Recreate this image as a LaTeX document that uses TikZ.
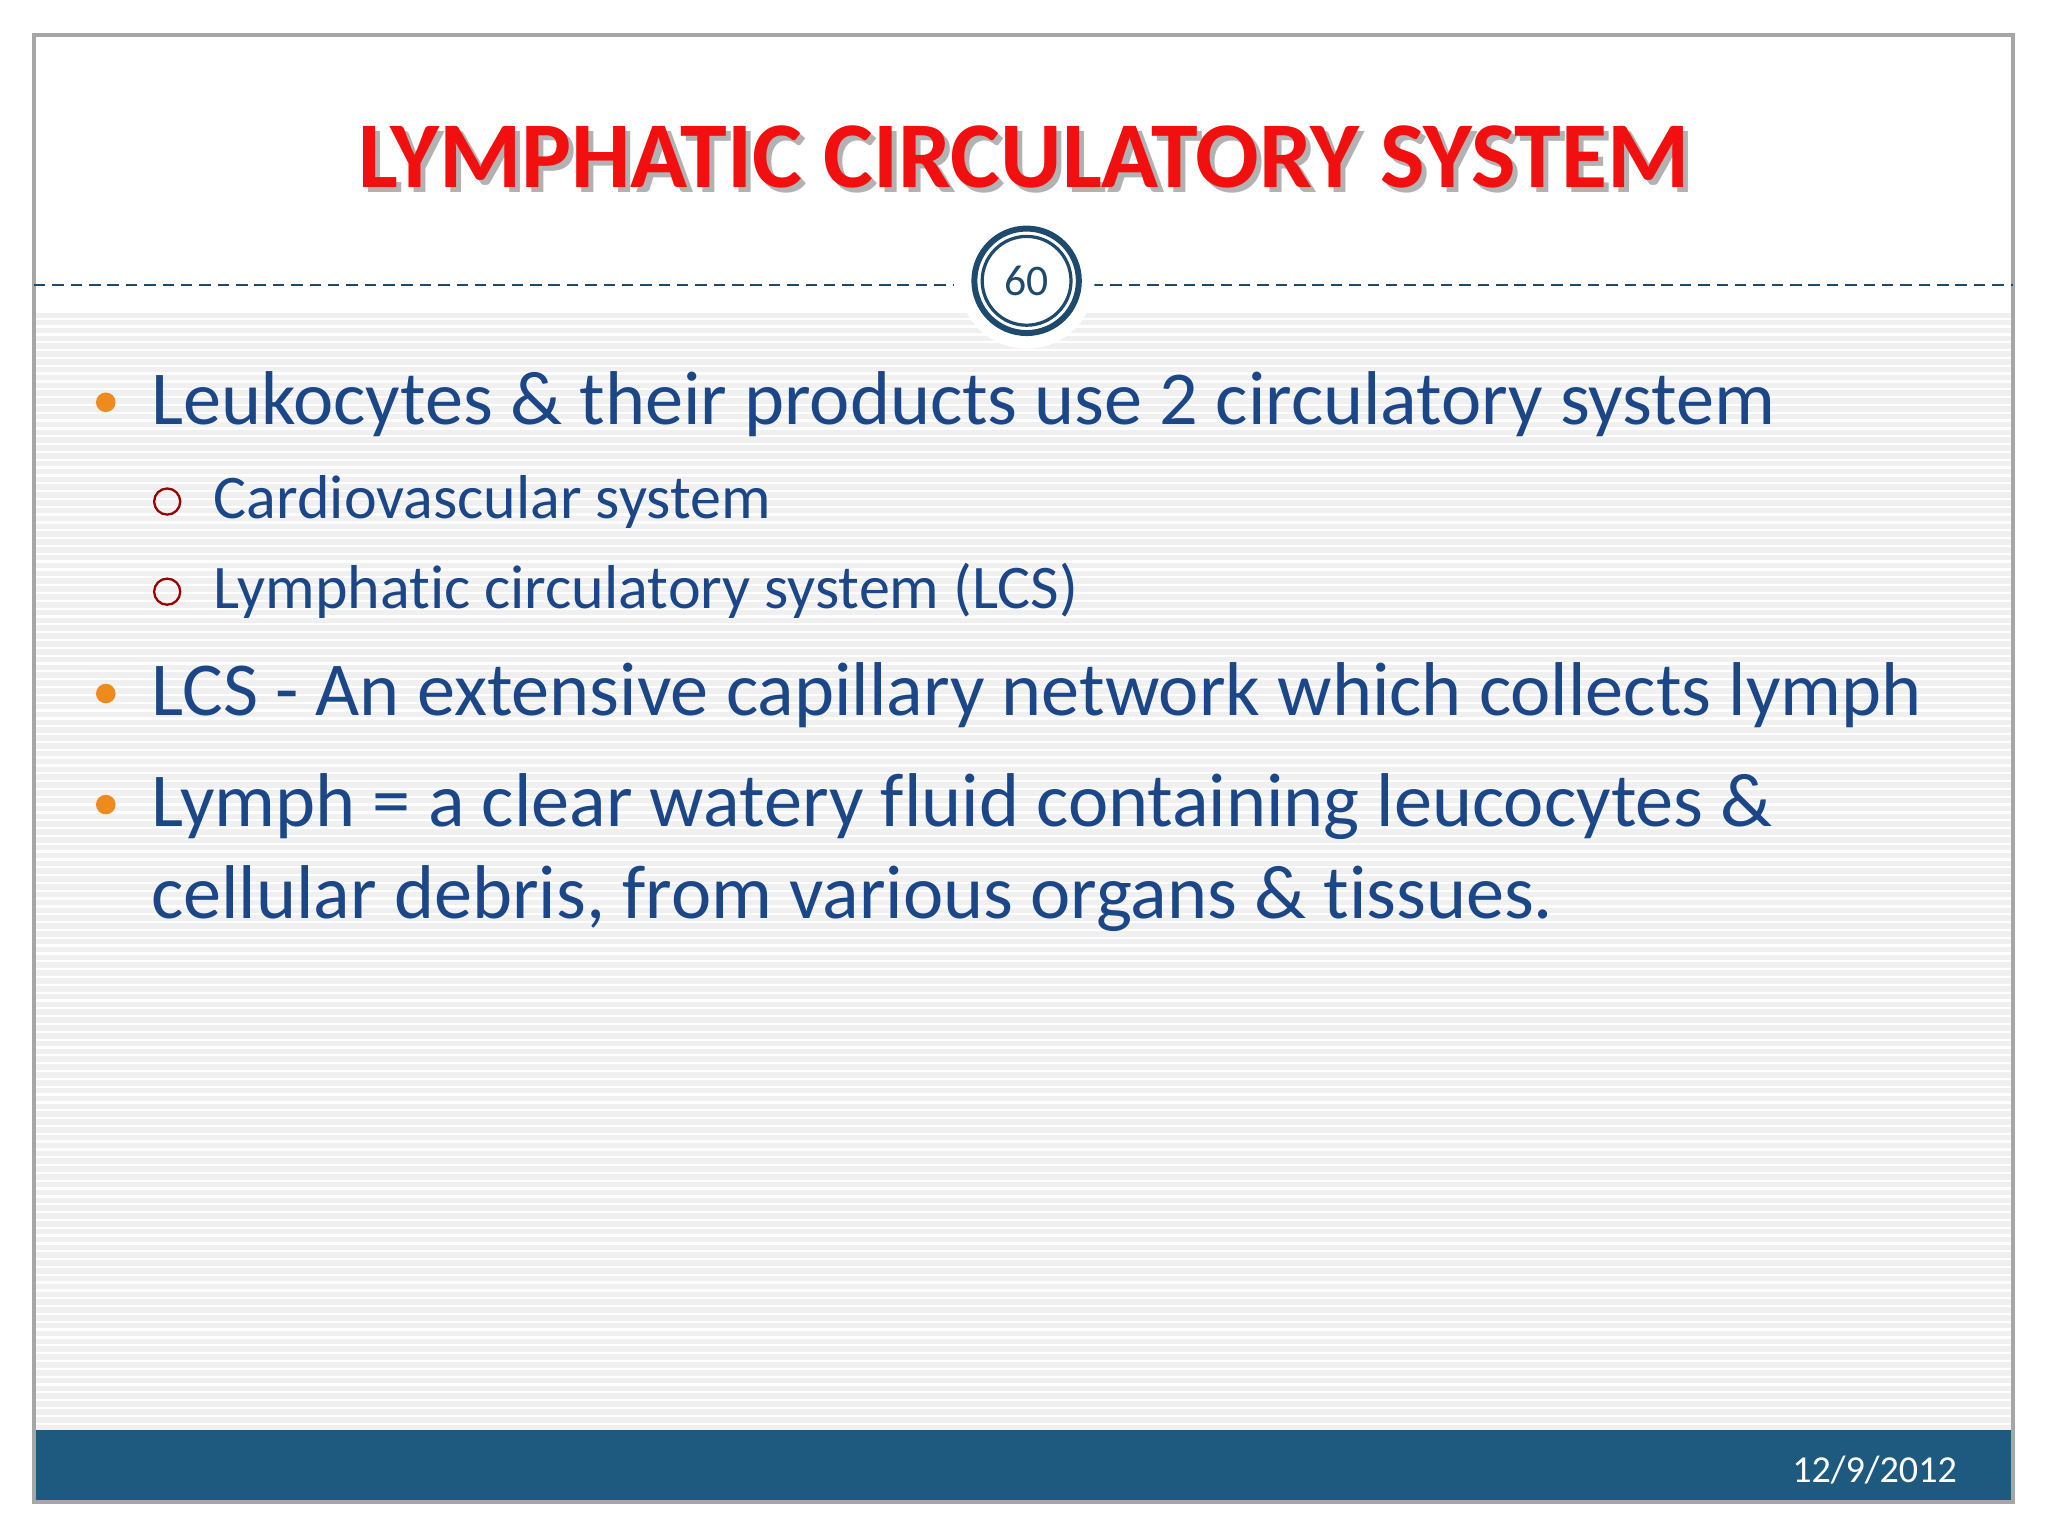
\documentclass[tikz,border=0pt]{standalone}
\usepackage{fontspec}
\setmainfont[Ligatures={NoCommon}]{Carlito}
\definecolor{txtblue}{HTML}{1B4687}
\definecolor{barblue}{HTML}{1E5A80}
\definecolor{ttlred}{HTML}{F20F0F}
\definecolor{bulor}{HTML}{EE8A1E}
\definecolor{ringblue}{HTML}{1E4A6E}
\begin{document}
\begin{tikzpicture}[x=0.01cm,y=-0.01cm,
  main/.style={anchor=base west,text=txtblue,font=\fontsize{16.6}{20}\selectfont,inner sep=0},
  sub/.style={anchor=base west,text=txtblue,font=\fontsize{13.5}{16}\selectfont,inner sep=0},
  dot/.style={circle,fill=bulor,inner sep=0,minimum size=15*0.01cm},
  ring/.style={circle,draw=red!60!black,line width=0.5pt,inner sep=0,minimum size=20*0.01cm},
  dline/.style={ringblue,line width=0.5pt,dash pattern=on 2.5pt off 1.5pt}]
\fill[white] (0,0) rectangle (1568,1176);
\fill[gray!12] (26,240) rectangle (1541,1095);
\foreach \y in {244,250,...,1092} \draw[white,line width=0.5pt] (26,\y) -- (1541,\y);
\fill[white] (26,27) rectangle (1541,240);
\fill[barblue] (26,1095) rectangle (1541,1150);
\draw[gray!70,line width=0.8pt] (26,27) rectangle (1541,1150);
\draw[dline] (26,218) -- (730,218);
\draw[dline] (836,218) -- (1541,218);
\fill[white] (786,215) circle (52);
\draw[ringblue,line width=1.3pt] (786,215) circle (40);
\draw[ringblue,line width=0.7pt] (786,215) circle (34);
\node[text=ringblue,font=\fontsize{9.5}{11}\selectfont] (num) at (786,215) {60};
\node[text=gray!60,font=\bfseries\fontsize{20.5}{24}\selectfont] (shd) at (788,124) {LYMPHATIC CIRCULATORY SYSTEM};
\node[text=ttlred,font=\bfseries\fontsize{20.5}{24}\selectfont] (title) at (784,120) {LYMPHATIC CIRCULATORY SYSTEM};
\node[dot] (b1) at (81,308) {};
\node[main] (t1) at (115,325) {Leukocytes \& their products use 2 circulatory system};
\node[ring] (s1) at (128,384) {};
\node[sub] (u1) at (163,397) {Cardiovascular system};
\node[ring] (s2) at (128,453) {};
\node[sub] (u2) at (163,466) {Lymphatic circulatory system (LCS)};
\node[dot] (b2) at (81,531) {};
\node[main] (t2) at (115,548) {LCS - An extensive capillary network which collects lymph};
\node[dot] (b3) at (81,616) {};
\node[main] (t3) at (115,633) {Lymph = a clear watery fluid containing leucocytes \&};
\node[main] (t4) at (115,703) {cellular debris, from various organs \& tissues.};
\node[anchor=base east,text=white,font=\fontsize{8.3}{10}\selectfont,inner sep=0] (date) at (1499,1135) {12/9/2012};
\end{tikzpicture}
\end{document}
